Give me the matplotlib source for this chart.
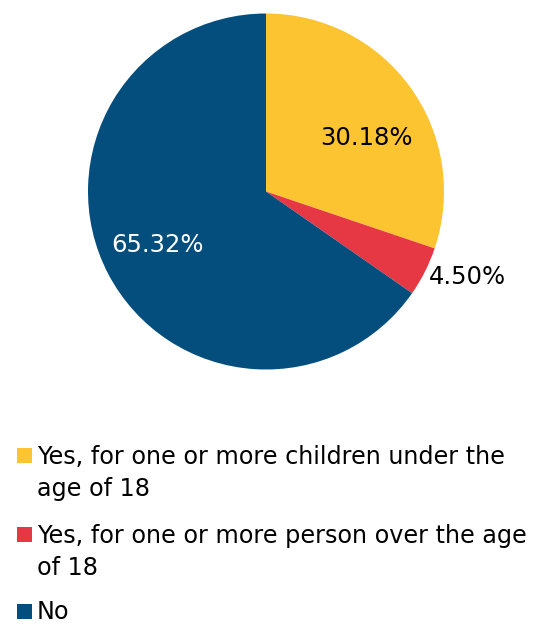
import matplotlib
matplotlib.use("Agg")
import matplotlib.pyplot as plt
from matplotlib.patches import Rectangle
import numpy as np

categories = ["Yes, for one or more children under the\nage of 18",
              "Yes, for one or more person over the age\nof 18",
              "No"]
values = [30.18, 4.50, 65.32]
pct_labels = ["30.18%", "4.50%", "65.32%"]
colors = ["#FDC431", "#E63744", "#034E7C"]
label_colors = ["black", "black", "white"]
label_dist = [0.64, 1.23, 0.68]
label_ang_adj = [-7.8, 3.7, -1.5]

plt.rcParams['font.family'] = ['DejaVu Sans']

W, H = 537, 625
fig = plt.figure(figsize=(W / 100, H / 100), dpi=100)
fig.patch.set_facecolor("white")

cx, cy, r = 266, 191.5, 178
ax = fig.add_axes([(cx - r) / W, (H - cy - r) / H, 2 * r / W, 2 * r / H])
wedges, _ = ax.pie(values, colors=colors, startangle=90, counterclock=False,
                   radius=1, wedgeprops=dict(linewidth=0))
ax.set_xlim(-1, 1)
ax.set_ylim(-1, 1)
ax.set_aspect('equal')
ax.axis('off')

for w, lab, col, d, da in zip(wedges, pct_labels, label_colors, label_dist, label_ang_adj):
    ang = np.deg2rad((w.theta1 + w.theta2) / 2 + da)
    ax.text(d * np.cos(ang), d * np.sin(ang), lab, color=col, fontsize=17.5,
            ha='center', va='center')

# legend (manual)
fs = 17.2
baselines = [463, 542, 619]
line_px = 33
sq = 15
for cat, col, b in zip(categories, colors, baselines):
    fig.patches.append(Rectangle((17 / W, (H - b) / H), sq / W, sq / H,
                                 transform=fig.transFigure, facecolor=col,
                                 edgecolor='none'))
    nlines = cat.count("\n")
    last_base = b + nlines * line_px
    fig.text(37 / W, (H - last_base) / H, cat, fontsize=fs, ha='left',
             va='baseline', linespacing=1.41, multialignment='left')

fig.savefig("out.png", dpi=100)
